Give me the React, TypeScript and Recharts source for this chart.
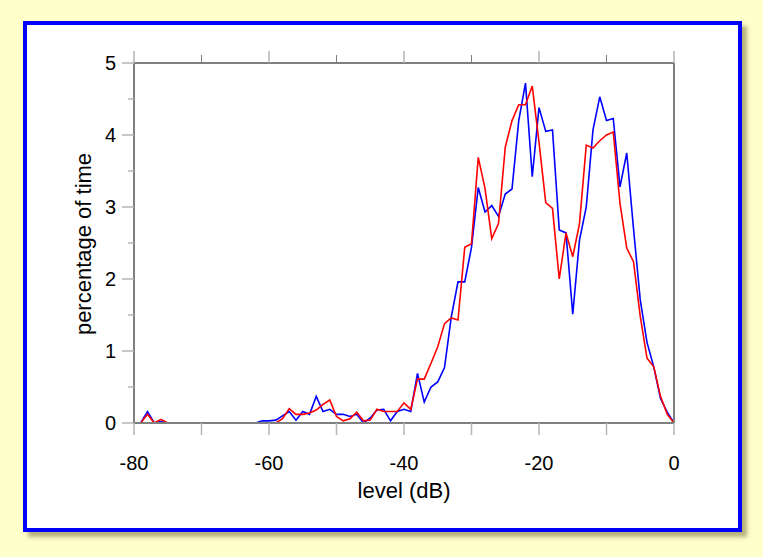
import React from 'react';
import { LineChart, Line, XAxis, YAxis } from 'recharts';

const levels = [
  -80, -79, -78, -77, -76, -75, -74, -73, -72, -71,
  -70, -69, -68, -67, -66, -65, -64, -63, -62, -61,
  -60, -59, -58, -57, -56, -55, -54, -53, -52, -51,
  -50, -49, -48, -47, -46, -45, -44, -43, -42, -41,
  -40, -39, -38, -37, -36, -35, -34, -33, -32, -31,
  -30, -29, -28, -27, -26, -25, -24, -23, -22, -21,
  -20, -19, -18, -17, -16, -15, -14, -13, -12, -11,
  -10, -9, -8, -7, -6, -5, -4, -3, -2, -1, 0,
];

const blueSeries = [
  0, 0, 0.16, 0, 0.02, 0, 0, 0, 0, 0,
  0, 0, 0, 0, 0, 0, 0, 0, 0, 0.03,
  0.03, 0.04, 0.1, 0.16, 0.04, 0.16, 0.12, 0.37, 0.16, 0.19,
  0.12, 0.12, 0.09, 0.12, 0.0, 0.07, 0.18, 0.19, 0.03, 0.16,
  0.19, 0.16, 0.69, 0.29, 0.5, 0.57, 0.77, 1.47, 1.96, 1.96,
  2.44, 3.27, 2.93, 3.02, 2.87, 3.18, 3.25, 4.2, 4.72, 3.42,
  4.38, 4.05, 4.07, 2.68, 2.64, 1.51, 2.54, 3.0, 4.07, 4.53,
  4.2, 4.23, 3.28, 3.75, 2.7, 1.71, 1.12, 0.78, 0.34, 0.15, 0,
];

const redSeries = [
  0, 0, 0.12, 0, 0.05, 0, 0, 0, 0, 0,
  0, 0, 0, 0, 0, 0, 0, 0, 0, 0,
  0, 0, 0.06, 0.2, 0.12, 0.12, 0.14, 0.18, 0.26, 0.32,
  0.09, 0.03, 0.06, 0.15, 0.03, 0.04, 0.19, 0.16, 0.16, 0.16,
  0.28, 0.19, 0.61, 0.61, 0.83, 1.06, 1.38, 1.46, 1.43, 2.44,
  2.49, 3.69, 3.26, 2.56, 2.77, 3.83, 4.2, 4.42, 4.42, 4.68,
  3.9, 3.06, 2.98, 2.0, 2.64, 2.31, 2.77, 3.86, 3.82, 3.92,
  4.0, 4.04, 3.05, 2.43, 2.24, 1.48, 0.9, 0.78, 0.37, 0.12, 0,
];

const xTicks = [-80, -70, -60, -50, -40, -30, -20, -10, 0];
const xTickLabels = ['-80', '-60', '-40', '-20', '0'];
const yTicks = [0, 0.5, 1, 1.5, 2, 2.5, 3, 3.5, 4, 4.5, 5];
const yTickLabels = ['0', '1', '2', '3', '4', '5'];

const xLabel = 'level (dB)';
const yLabel = 'percentage of time';

const data = levels.map((lv, i) => ({ level: lv, blue: blueSeries[i], red: redSeries[i] }));

const W = 763;
const H = 557;
const PL = 134;
const PR = 674;
const PT = 63;
const PB = 423;
const FONT = '"Liberation Sans", Arial, Helvetica, sans-serif';
const AXIS = '#7f7f7f';
const TICK = '#b5b5b5';

const BottomTick = (props: any) => {
  const x = props.x;
  const v = props.payload.value;
  const label = xTickLabels.find((l) => Number(l) === v);
  return (
    <g>
      <line x1={x} x2={x} y1={PB} y2={PB + 12} stroke={TICK} strokeWidth={1.5} />
      {label !== undefined && (
        <text x={x} y={PB + 47} textAnchor="middle" fontSize={20} fontFamily={FONT} fill="#000">
          {label}
        </text>
      )}
    </g>
  );
};

const TopTick = (props: any) => {
  const x = props.x;
  const v = props.payload.value;
  const major = v % 20 === 0;
  return (
    <line
      x1={x}
      x2={x}
      y1={PT}
      y2={PT - (major ? 12 : 8)}
      stroke={major ? TICK : AXIS}
      strokeWidth={major ? 1.5 : 1}
    />
  );
};

const LeftTick = (props: any) => {
  const y = props.y;
  const v = props.payload.value;
  const label = yTickLabels.find((l) => Number(l) === v);
  return (
    <g>
      <line x1={PL - (label !== undefined ? 12 : 6)} x2={PL} y1={y} y2={y} stroke={TICK} strokeWidth={1.5} />
      {label !== undefined && (
        <text x={PL - 18} y={y} dy="0.36em" textAnchor="end" fontSize={20} fontFamily={FONT} fill="#000">
          {label}
        </text>
      )}
    </g>
  );
};

const RightTick = (props: any) => {
  const y = props.y;
  return <line x1={PR} x2={PR + 12} y1={y} y2={y} stroke={TICK} strokeWidth={1.5} />;
};

export default function App() {
  return (
    <div style={{ position: 'absolute', left: 0, top: 0, width: W, height: H, background: '#ffffcc' }}>
      <div
        style={{
          position: 'absolute',
          left: 23,
          top: 21,
          width: 719,
          height: 511,
          boxSizing: 'border-box',
          border: '4px solid #0000ff',
          background: '#ffffff',
          boxShadow: '5px 5px 4px rgba(110, 100, 40, 0.5)',
        }}
      />
      <div style={{ position: 'absolute', left: 0, top: 0 }}>
        <LineChart
          width={W}
          height={H}
          data={data}
          margin={{ top: PT - 20, right: W - PR - 20, bottom: H - PB - 40, left: PL - 60 }}
        >
          <XAxis
            dataKey="level"
            type="number"
            domain={[-80, 0]}
            ticks={xTicks}
            height={40}
            axisLine={{ stroke: AXIS, strokeWidth: 2 }}
            tickLine={false}
            tick={<BottomTick />}
            interval={0}
          />
          <XAxis
            xAxisId="top"
            orientation="top"
            dataKey="level"
            type="number"
            domain={[-80, 0]}
            ticks={xTicks}
            height={20}
            axisLine={{ stroke: AXIS, strokeWidth: 2 }}
            tickLine={false}
            tick={<TopTick />}
            interval={0}
          />
          <YAxis
            type="number"
            domain={[0, 5]}
            ticks={yTicks}
            width={60}
            axisLine={{ stroke: AXIS, strokeWidth: 2 }}
            tickLine={false}
            tick={<LeftTick />}
            interval={0}
          />
          <YAxis
            yAxisId="right"
            orientation="right"
            type="number"
            domain={[0, 5]}
            ticks={yTicks}
            width={20}
            axisLine={{ stroke: AXIS, strokeWidth: 2 }}
            tickLine={false}
            tick={<RightTick />}
            interval={0}
          />
          <Line
            dataKey="blue"
            stroke="#0000ff"
            strokeWidth={1.6}
            dot={false}
            isAnimationActive={false}
            type="linear"
          />
          <Line
            dataKey="red"
            stroke="#ff0000"
            strokeWidth={1.6}
            dot={false}
            isAnimationActive={false}
            type="linear"
          />
        </LineChart>
      </div>
      <svg width={W} height={H} style={{ position: 'absolute', left: 0, top: 0, pointerEvents: 'none' }}>
        <text x={(PL + PR) / 2} y={498} textAnchor="middle" fontSize={22} fontFamily={FONT} fill="#000">
          {xLabel}
        </text>
        <text
          x={0}
          y={0}
          transform={`translate(91, ${(PT + PB) / 2 + 1}) rotate(-90)`}
          textAnchor="middle"
          fontSize={22}
          fontFamily={FONT}
          fill="#000"
        >
          {yLabel}
        </text>
      </svg>
    </div>
  );
}
